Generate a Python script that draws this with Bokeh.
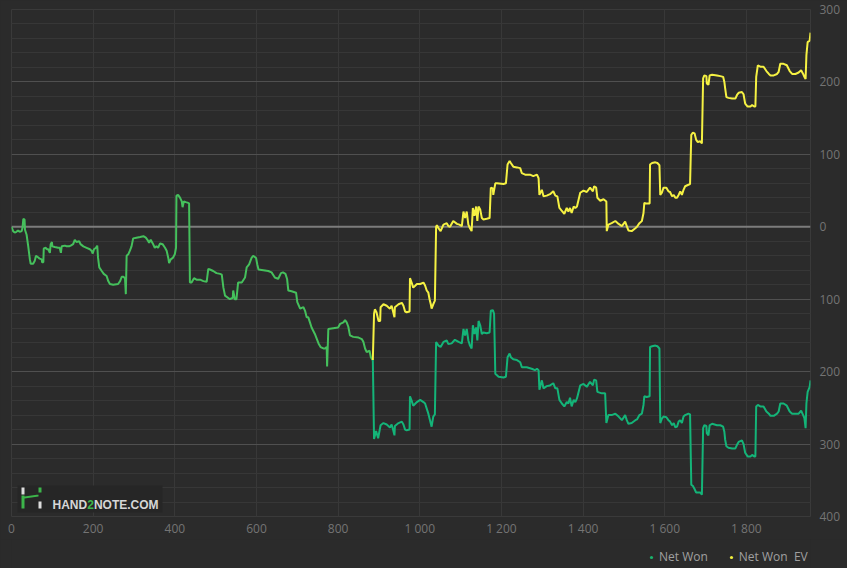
from bokeh.plotting import figure
from bokeh.layouts import column
from bokeh.models import (FixedTicker, CustomJSTickFormatter, Span, Legend, LegendItem,
                          BoxAnnotation, PolyAnnotation, Label, Range1d)
from bokeh.embed import file_html
from bokeh.resources import INLINE

# ---- data (hands played, cumulative amount) ----
# part where Net Won and Net Won EV coincide
shared_hands = [0, 4, 8, 12, 16, 20, 25, 27, 29, 32, 33, 37, 41, 45, 47, 53, 57, 60, 65, 69, 74, 75, 78, 79,
                84, 87, 90, 94, 96, 99, 100, 106, 114, 118, 121, 123, 131, 135, 141, 145, 151, 155, 159, 166,
                169, 176, 184, 192, 196, 199, 202, 207, 210, 212, 215, 221, 226, 233, 237, 241, 249, 261, 266,
                270, 274, 278, 280, 282, 286, 290, 294, 298, 306, 315, 323, 329, 333, 337, 341, 346, 351, 355,
                359, 364, 370, 376, 380, 384, 386, 390, 395, 400, 403, 404, 408, 413, 417, 419, 422, 427, 433,
                435, 437, 441, 447, 453, 462, 470, 478, 482, 486, 494, 502, 511, 515, 519, 523, 535, 542, 543,
                547, 551, 555, 564, 572, 576, 582, 588, 592, 599, 602, 605, 617, 629, 637, 645, 653, 660, 665,
                671, 675, 678, 686, 697, 700, 707, 715, 719, 723, 727, 731, 735, 743, 752, 757, 764, 768, 772,
                773, 776, 788, 800, 805, 813, 817, 821, 825, 829, 837, 850, 858, 862, 866, 870, 877, 880, 885]
shared_values = [0, -6, -8, -7, -5, -7, -6, -1, 11, 10, -4, -11, -27, -45, -51, -51, -47, -40, -42, -44, -45, -49, -49, -30,
                 -29, -31, -31, -36, -24, -21, -27, -28, -29, -29, -36, -27, -26, -27, -27, -26, -24, -18, -21, -20,
                 -24, -27, -29, -31, -33, -37, -31, -29, -26, -43, -56, -61, -65, -68, -75, -79, -80, -79, -75,
                 -69, -69, -71, -93, -40, -38, -33, -27, -16, -15, -14, -13, -15, -18, -22, -18, -23, -29, -27,
                 -29, -23, -24, -29, -33, -43, -50, -45, -43, -38, -29, 43, 44, 40, 35, 27, 35, 34, 33,
                 32, -77, -77, -71, -73, -73, -75, -76, -58, -59, -61, -64, -65, -66, -84, -95, -100, -98, -88,
                 -100, -100, -77, -77, -70, -56, -52, -43, -40, -43, -52, -59, -60, -61, -63, -70, -72, -64, -63,
                 -65, -72, -88, -89, -91, -104, -113, -111, -116, -125, -125, -132, -139, -148, -161, -166, -168, -168, -166,
                 -193, -141, -140, -139, -134, -132, -129, -132, -138, -150, -152, -153, -155, -159, -168, -173, -171, -180, -184]

# Net Won EV after the split
ev_hands = [885, 888, 890, 894, 899, 903, 904, 911, 919, 927, 931, 935, 938, 939, 948, 956, 960, 964, 968, 975,
            976, 980, 984, 993, 1001, 1009, 1013, 1017, 1021, 1024, 1027, 1029, 1033, 1037, 1040, 1042, 1046,
            1051, 1058, 1066, 1070, 1074, 1082, 1091, 1097, 1103, 1107, 1111, 1115, 1119, 1123, 1127, 1130,
            1134, 1138, 1141, 1144, 1148, 1152, 1156, 1164, 1171, 1174, 1179, 1180, 1185, 1189, 1205, 1211,
            1215, 1220, 1223, 1229, 1238, 1246, 1250, 1258, 1270, 1278, 1287, 1291, 1293, 1299, 1303, 1311,
            1319, 1327, 1332, 1337, 1342, 1348, 1354, 1360, 1364, 1368, 1372, 1377, 1381, 1385, 1393, 1401,
            1409, 1417, 1424, 1427, 1432, 1435, 1442, 1450, 1457, 1458, 1462, 1470, 1479, 1487, 1495, 1503,
            1507, 1511, 1519, 1528, 1532, 1538, 1544, 1548, 1550, 1556, 1563, 1564, 1569, 1577, 1582, 1587,
            1589, 1593, 1597, 1604, 1609, 1613, 1618, 1622, 1626, 1630, 1634, 1638, 1642, 1646, 1650, 1658,
            1662, 1665, 1669, 1673, 1677, 1681, 1687, 1691, 1694, 1697, 1702, 1703, 1707, 1710, 1716, 1728,
            1736, 1743, 1746, 1748, 1751, 1756, 1765, 1773, 1777, 1781, 1789, 1793, 1797, 1803, 1810, 1814,
            1819, 1822, 1824, 1828, 1834, 1842, 1849, 1855, 1859, 1867, 1875, 1879, 1883, 1891, 1899, 1906,
            1912, 1920, 1928, 1934, 1939, 1942, 1945, 1947, 1950, 1955, 1957]
ev_values = [-184, -120, -114, -118, -130, -130, -111, -107, -109, -113, -109, -118, -125, -111, -107, -105, -109, -117, -118, -117,
             -71, -77, -84, -79, -79, -77, -81, -88, -91, -100, -107, -113, -107, -102, 0, 2, -2,
             -6, 3, 5, 1, 0, 8, 4, 3, 1, 21, 12, 21, 3, -2, -6, 26,
             15, 28, 8, 28, 24, 12, 10, 11, 12, 54, 53, 44, 60, 60, 59, 60,
             86, 91, 88, 83, 82, 81, 74, 72, 72, 70, 72, 67, 44, 51, 42, 43,
             45, 49, 43, 42, 26, 22, 18, 26, 21, 26, 19, 28, 26, 28, 47, 50,
             48, 54, 49, 56, 54, 40, 36, 38, 35, -6, 3, 5, 8, 4, 1, 7,
             1, -5, -6, -2, 0, 5, 8, 19, 33, 32, 32, 86, 88, 89, 88, 85,
             44, 47, 54, 54, 49, 48, 42, 44, 40, 40, 44, 49, 44, 51, 56, 58,
             59, 127, 130, 129, 120, 117, 118, 115, 205, 209, 208, 198, 196, 209, 210, 209,
             208, 207, 200, 191, 179, 178, 177, 177, 182, 185, 186, 183, 170, 166, 166, 168,
             166, 166, 207, 223, 221, 221, 215, 211, 209, 209, 211, 214, 225, 225, 223, 215,
             211, 211, 213, 216, 211, 207, 204, 237, 255, 257, 268]

# Net Won after the split
nw_hands = [885, 888, 893, 898, 904, 911, 919, 927, 931, 935, 938, 939, 948, 956, 960, 964, 968, 975, 976, 980,
            984, 993, 1001, 1009, 1013, 1017, 1021, 1025, 1029, 1033, 1037, 1040, 1046, 1051, 1058, 1066, 1070,
            1078, 1086, 1095, 1103, 1107, 1111, 1115, 1119, 1123, 1127, 1130, 1134, 1138, 1141, 1144, 1148,
            1152, 1156, 1164, 1171, 1174, 1179, 1182, 1185, 1193, 1205, 1211, 1215, 1220, 1223, 1229, 1238,
            1246, 1250, 1262, 1274, 1282, 1287, 1291, 1293, 1299, 1303, 1311, 1319, 1327, 1332, 1337, 1342,
            1348, 1354, 1360, 1364, 1368, 1372, 1377, 1381, 1385, 1393, 1401, 1409, 1417, 1424, 1427, 1432,
            1435, 1446, 1454, 1457, 1462, 1470, 1479, 1487, 1495, 1503, 1507, 1511, 1519, 1528, 1532, 1538,
            1544, 1548, 1550, 1556, 1563, 1564, 1569, 1577, 1582, 1587, 1589, 1593, 1597, 1604, 1609, 1613,
            1618, 1622, 1626, 1630, 1634, 1638, 1642, 1646, 1650, 1658, 1662, 1665, 1669, 1673, 1677, 1687,
            1691, 1694, 1697, 1702, 1703, 1707, 1710, 1716, 1728, 1736, 1743, 1746, 1748, 1751, 1756, 1765,
            1773, 1777, 1781, 1789, 1793, 1797, 1803, 1810, 1814, 1819, 1822, 1824, 1828, 1834, 1842, 1849,
            1855, 1859, 1867, 1875, 1879, 1883, 1891, 1899, 1906, 1912, 1920, 1928, 1934, 1939, 1942, 1945,
            1947, 1950, 1955, 1957]
nw_values = [-184, -293, -282, -292, -274, -271, -273, -277, -273, -281, -288, -275, -271, -269, -273, -280, -281, -280, -234, -240,
             -247, -242, -239, -242, -244, -251, -258, -267, -276, -262, -259, -159, -164, -166, -159, -157, -162,
             -161, -156, -159, -161, -141, -150, -141, -157, -164, -168, -136, -148, -139, -157, -130, -136,
             -148, -146, -147, -146, -116, -115, -120, -203, -207, -208, -207, -180, -175, -180, -183, -184,
             -187, -194, -194, -196, -198, -196, -198, -225, -212, -223, -220, -219, -216, -223, -223, -239,
             -244, -248, -242, -244, -236, -248, -239, -242, -237, -219, -217, -221, -214, -219, -211, -212,
             -228, -230, -230, -271, -260, -260, -258, -262, -267, -260, -267, -272, -271, -267, -266, -260,
             -258, -246, -234, -235, -234, -166, -165, -164, -165, -168, -271, -265, -262, -263, -267, -269,
             -274, -271, -277, -276, -269, -267, -271, -262, -260, -258, -259, -356, -358, -362, -367, -367,
             -370, -278, -274, -275, -285, -288, -274, -272, -274, -274, -276, -283, -294, -303, -305, -306,
             -306, -301, -297, -295, -300, -312, -317, -317, -315, -317, -317, -248, -246, -248, -248, -255,
             -258, -261, -261, -258, -255, -244, -244, -247, -255, -258, -258, -258, -254, -260, -264, -278,
             -244, -228, -221, -212]

x_ticks = [0, 200, 400, 600, 800, 1000, 1200, 1400, 1600, 1800]
y_ticks = [-400, -300, -200, -100, 0, 100, 200, 300]
y_minor_ticks = list(range(-400, 301, 20))

series_labels = ["Net Won", "Net Won  EV"]

BG = "#2b2b2b"
GREEN = "#14b478"
YELLOW = "#f5f143"
SHARED = "#45c05c"

p = figure(width=847, height=539, x_range=Range1d(0, 1957), y_range=Range1d(-400, 300),
           output_backend="svg", toolbar_location=None, y_axis_location="right",
           background_fill_color=BG, border_fill_color=BG, outline_line_color="#3a3a3a",
           min_border_left=11, min_border_right=37, min_border_top=9, min_border_bottom=22)

# axes
p.xaxis.ticker = FixedTicker(ticks=x_ticks)
p.yaxis.ticker = FixedTicker(ticks=y_ticks, minor_ticks=y_minor_ticks)
p.xaxis.formatter = CustomJSTickFormatter(code="return String(tick).replace(/\\B(?=(\\d{3})+(?!\\d))/g, ' ');")
p.yaxis.formatter = CustomJSTickFormatter(code="return String(Math.abs(tick));")
for ax in (p.xaxis[0], p.yaxis[0]):
    ax.axis_line_color = None
    ax.major_tick_line_color = None
    ax.minor_tick_line_color = None
    ax.major_tick_out = 0
    ax.major_tick_in = 0
    ax.major_label_text_color = "#747474"
    ax.major_label_text_font = "Open Sans"
    ax.major_label_text_font_size = "12px"
p.xaxis.major_label_standoff = 3
p.yaxis.major_label_standoff = 5

# grid
p.xgrid.grid_line_color = "#383838"
p.ygrid.grid_line_color = "#505050"
p.ygrid.minor_grid_line_color = "#373737"

zero = Span(location=0, dimension="width", line_color="#7c7c7c", line_width=2, level="underlay")
p.add_layout(zero)

# lines
p.line(shared_hands, shared_values, line_color=SHARED, line_width=2)
p.line(nw_hands, nw_values, line_color=GREEN, line_width=2)
p.line(ev_hands, ev_values, line_color=YELLOW, line_width=2)

# watermark logo
p.add_layout(BoxAnnotation(left=6, right=151, bottom=4, top=31, left_units="screen", right_units="screen",
                           bottom_units="screen", top_units="screen", fill_color="#262626", fill_alpha=1,
                           line_color=None))
p.add_layout(BoxAnnotation(left=10, right=13, bottom=22, top=29, left_units="screen", right_units="screen",
                           bottom_units="screen", top_units="screen", fill_color="#dddddd", fill_alpha=1,
                           line_color=None))
p.add_layout(BoxAnnotation(left=27, right=30, bottom=8, top=15, left_units="screen", right_units="screen",
                           bottom_units="screen", top_units="screen", fill_color="#dddddd", fill_alpha=1,
                           line_color=None))
p.add_layout(PolyAnnotation(xs=[10, 13, 13, 27, 27, 30, 30, 27, 27, 13, 13, 10],
                            ys=[8, 8, 18, 20, 29, 29, 24, 24, 22, 20, 21, 21], xs_units="screen", ys_units="screen",
                            fill_color="#3cb54a", fill_alpha=1, line_color=None))
for txt, xx, col in (("HAND", 41, "#d6d6d6"), ("2", 75.7, "#3cb54a"), ("NOTE.COM", 82.4, "#d6d6d6")):
    p.add_layout(Label(x=xx, y=12, x_units="screen", y_units="screen", text=txt, text_color=col,
                       text_font="Liberation Sans", text_font_style="bold", text_font_size="12px",
                       text_baseline="alphabetic"))

# legend strip below the chart (its frame is aligned with the chart frame by the column layout)
lg = figure(width=847, height=29, x_range=Range1d(0, 1), y_range=Range1d(0, 1),
            output_backend="svg", toolbar_location=None, x_axis_type=None, y_axis_type=None,
            background_fill_color=BG, border_fill_color=BG, outline_line_color=None,
            min_border_left=0, min_border_right=0, min_border_top=0, min_border_bottom=0)
lg.grid.visible = False
d_nw = lg.scatter(x=[float("nan")], y=[float("nan")], size=6, fill_color="#19b36c", line_color=None)
d_ev = lg.scatter(x=[float("nan")], y=[float("nan")], size=6, fill_color="#f0ef3c", line_color=None)
leg = Legend(items=[LegendItem(label=series_labels[0], renderers=[d_nw]),
                    LegendItem(label=series_labels[1], renderers=[d_ev])],
             location=(636, 3), orientation="horizontal", glyph_width=8, glyph_height=14,
             label_height=14, label_standoff=4, spacing=19, padding=0, margin=0,
             background_fill_alpha=0, border_line_alpha=0, label_text_color="#a0a0a0",
             label_text_font="Open Sans", label_text_font_size="12px")
lg.add_layout(leg, "center")

layout = column(p, lg, spacing=0, styles={"background-color": BG})
open("out.html", "w").write(file_html(layout, INLINE))
